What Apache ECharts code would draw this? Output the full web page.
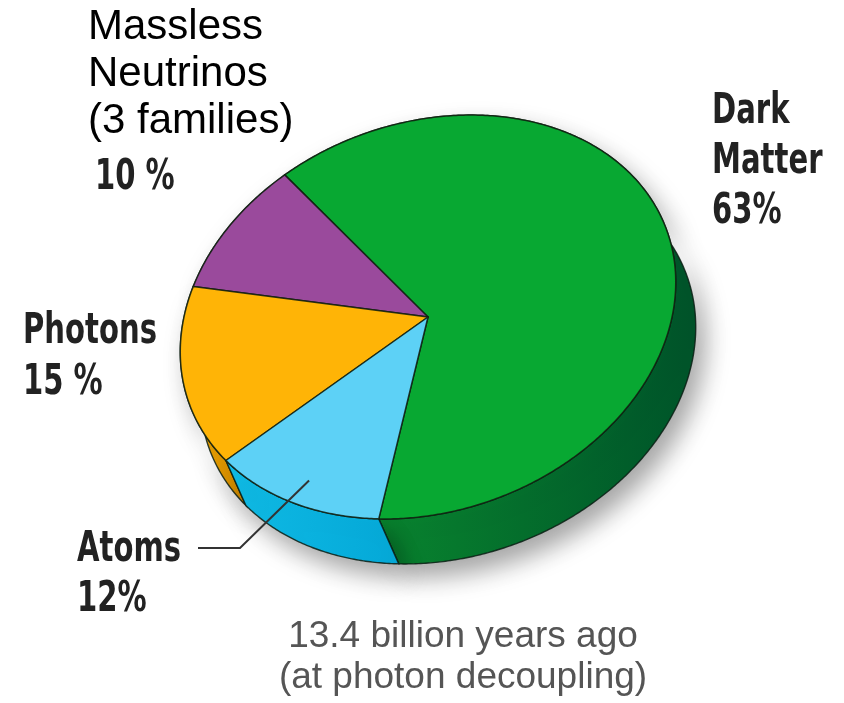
<!DOCTYPE html>
<html><head><meta charset="utf-8">
<script src="https://cdn.jsdelivr.net/npm/echarts@6/dist/echarts.min.js"></script>
<style>html,body{margin:0;padding:0;background:#fff}#c{width:844px;height:703px}</style>
</head><body><div id="c"></div>
<script>
// ---- data ----
const categories = ['Dark Matter', 'Massless Neutrinos (3 families)', 'Photons', 'Atoms'];
const values = [63, 10, 15, 12];
const percentLabels = ['63%', '10 %', '15 %', '12%'];
const subtitleLines = ['13.4 billion years ago', '(at photon decoupling)'];

// ---- style ----
const topColors = ['#08a832', '#9a4a9c', '#ffb406', '#5dd1f6'];
const sideColors = [['#0c9431', '#00542a'], ['#6e2f70', '#6e2f70'], ['#f0a800', '#d88e00'], ['#10bde8', '#05aad9']];
const condensed = '"DejaVu Sans Condensed", "DejaVu Sans", sans-serif';
const plain = '"Liberation Sans", Arial, sans-serif';

const chart = echarts.init(document.getElementById('c'), null, {renderer: 'canvas'});
const total = values.reduce((a, b) => a + b, 0);
let run = 0;
const seriesData = values.map((v, i) => { const d = {name: categories[i], value: [v, run]}; run += v; return d; });

// projected (tilted) pie geometry
const CX = 428, CY = 317, A = 254, B = 194, PHI = 20 * Math.PI / 180, DX = 20, DY = 45, START = 117 * Math.PI / 180;
function pt(theta, f) {
  f = f == null ? 1 : f;
  const s = A * f * Math.cos(theta), t = B * f * Math.sin(theta);
  return [CX + s * Math.cos(PHI) + t * Math.sin(PHI), CY - s * Math.sin(PHI) + t * Math.cos(PHI)];
}

function renderItem(params, api) {
  const i = params.dataIndex;
  const v = api.value(0), before = api.value(1);
  const t1 = START - before / total * Math.PI * 2;
  const t2 = START - (before + v) / total * Math.PI * 2;
  const n = Math.max(8, Math.ceil(Math.abs(t2 - t1) / 0.01));
  const arc = [];
  for (let k = 0; k <= n; k++) arc.push(pt(t1 + (t2 - t1) * k / n));
  const side = arc.concat(arc.slice().reverse().map(p => [p[0] + DX, p[1] + DY]));
  const children = [
    {
      type: 'polygon', z2: 1,
      shape: {points: side},
      style: {
        fill: new echarts.graphic.LinearGradient(0, 0, 1, 0, [{offset: 0, color: sideColors[i][0]}, {offset: 1, color: sideColors[i][1]}]),
        stroke: 'rgba(10,30,20,0.85)', lineWidth: 1.4,
        shadowBlur: 24, shadowColor: 'rgba(0,0,0,0.35)', shadowOffsetX: 9, shadowOffsetY: 13
      }
    },
    {
      type: 'polygon', z2: 10,
      shape: {points: [[CX, CY]].concat(arc)},
      style: {fill: topColors[i], stroke: 'rgba(15,30,15,0.85)', lineWidth: 1.5, lineJoin: 'round'}
    }
  ];
  if (i === 3) {
    const mid = (t1 + t2) / 2;
    const e = pt(mid, 0.88);
    children.push({
      type: 'polyline', z2: 20,
      shape: {points: [[198, 548], [240, 548], e]},
      style: {stroke: '#333', lineWidth: 2, fill: null}
    });
  }
  return {type: 'group', children: children};
}

const lbl = (x, y, text, font, lh, color, sx) => ({
  type: 'text', x: x, y: y, scaleX: sx || 1, z: 100,
  style: {text: text, font: font, lineHeight: lh, fill: color || '#222'}
});
const LBL_FONT = 'bold 42px ' + condensed;
const SQ = 0.77;

chart.setOption({
  backgroundColor: '#ffffff',
  animation: false,
  series: [{
    type: 'custom', coordinateSystem: 'none',
    renderItem: renderItem,
    data: seriesData
  }],
  graphic: [
    lbl(88, 4, 'Massless\nNeutrinos\n(3 families)', '42px ' + plain, 47, '#000'),
    lbl(95, 153, percentLabels[1], LBL_FONT, 50, null, SQ),
    lbl(712, 87, 'Dark\nMatter\n' + percentLabels[0], LBL_FONT, 50, null, SQ),
    lbl(23, 307, 'Photons\n' + percentLabels[2], LBL_FONT, 51, null, SQ),
    lbl(77, 525, 'Atoms\n' + percentLabels[3], LBL_FONT, 50, null, SQ),
    {type: 'text', z: 100, x: 463, y: 616,
     style: {text: subtitleLines.join('\n'), font: '37px ' + plain, lineHeight: 41, fill: '#555', align: 'center'}}
  ]
});
</script></body></html>
